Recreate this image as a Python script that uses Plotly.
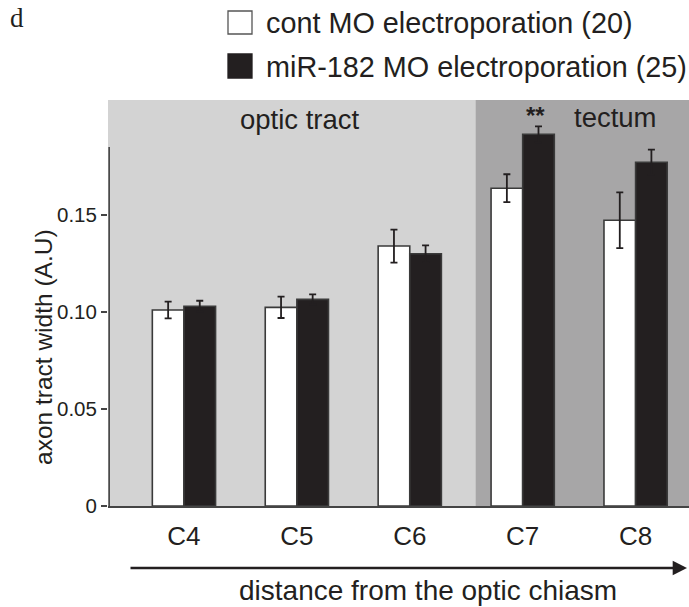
import plotly.graph_objects as go

# ---- data ----
categories = ["C4", "C5", "C6", "C7", "C8"]
cont_values = [0.101, 0.1024, 0.134, 0.1638, 0.1473]
cont_errors = [0.0043, 0.0055, 0.0085, 0.0072, 0.0144]
mir_values = [0.103, 0.1065, 0.130, 0.1916, 0.1772]
mir_errors = [0.0028, 0.0026, 0.0043, 0.0041, 0.0065]
series_names = ["cont MO electroporation (20)", "miR-182 MO electroporation (25)"]
y_tickvals = [0, 0.05, 0.10, 0.15]
y_ticktext = ["0", "0.05", "0.10", "0.15"]

# ---- layout helpers ----
W, H = 689, 607
ML, MR, MT, MB = 108, 0, 100, 101
PW, PH = W - ML - MR, H - MT - MB


def px(x):
    return (x - ML) / PW


def py(y):
    return (H - MB - y) / PH


FONT = "Liberation Sans, Arial, sans-serif"
INK = "#231f20"
EDGE = "#3a3a3a"

fig = go.Figure()
fig.add_trace(go.Bar(
    x=categories, y=cont_values, name=series_names[0],
    marker=dict(color="white", line=dict(color=EDGE, width=1.6)),
    error_y=dict(type="data", array=cont_errors, visible=True,
                 color=INK, thickness=1.8, width=3.5),
))
fig.add_trace(go.Bar(
    x=categories, y=mir_values, name=series_names[1],
    marker=dict(color=INK, line=dict(color=EDGE, width=1.6)),
    error_y=dict(type="data", array=mir_errors, visible=True,
                 color=INK, thickness=1.8, width=3.5),
))

x_lo, x_hi = -0.6726, 4.473
boundary = 2.584

shapes = [
    # dark grey tectum region
    dict(type="rect", xref="x", yref="paper", x0=boundary, x1=x_hi, y0=0, y1=1,
         fillcolor="#a7a6a7", line=dict(width=0), layer="below"),
    # partial y axis line
    dict(type="line", xref="paper", yref="y", x0=0.002, x1=0.002, y0=0, y1=0.185,
         line=dict(color="#444444", width=1.6), layer="above"),
    # legend squares
    dict(type="rect", xref="paper", yref="paper",
         x0=px(228), x1=px(252), y0=py(34), y1=py(11),
         fillcolor="white", line=dict(color="#555555", width=1.3)),
    dict(type="rect", xref="paper", yref="paper",
         x0=px(228), x1=px(252), y0=py(78), y1=py(54),
         fillcolor=INK, line=dict(color=INK, width=1.3)),
]

annotations = [
    dict(text="d", xref="paper", yref="paper", x=px(17), y=py(18),
         showarrow=False, font=dict(family="Liberation Serif, Times New Roman, serif", size=27, color=INK),
         xanchor="center", yanchor="middle"),
    dict(text=series_names[0], xref="paper", yref="paper", x=px(264), y=py(23),
         showarrow=False, font=dict(family=FONT, size=28.8, color=INK),
         xanchor="left", yanchor="middle"),
    dict(text=series_names[1], xref="paper", yref="paper", x=px(264), y=py(67),
         showarrow=False, font=dict(family=FONT, size=28.8, color=INK),
         xanchor="left", yanchor="middle"),
    dict(text="optic tract", xref="paper", yref="paper", x=px(300), y=py(119),
         showarrow=False, font=dict(family=FONT, size=27.5, color=INK),
         xanchor="center", yanchor="middle"),
    dict(text="tectum", xref="paper", yref="paper", x=px(615), y=py(117),
         showarrow=False, font=dict(family=FONT, size=27.5, color=INK),
         xanchor="center", yanchor="middle"),
    dict(text="<b>**</b>", xref="x", yref="paper", x="C7", y=py(116),
         xshift=13, showarrow=False, font=dict(family=FONT, size=24, color=INK),
         xanchor="center", yanchor="middle"),
    dict(text="axon tract width (A.U)", xref="paper", yref="paper", x=px(43), y=py(347),
         showarrow=False, textangle=-90, font=dict(family=FONT, size=24.5, color=INK),
         xanchor="center", yanchor="middle"),
    dict(text="distance from the optic chiasm", xref="paper", yref="paper", x=px(428), y=py(590),
         showarrow=False, font=dict(family=FONT, size=28, color=INK),
         xanchor="center", yanchor="middle"),
    # arrow
    dict(text="", xref="paper", yref="paper", x=px(687), y=py(568),
         ax=-(687 - 129), ay=0, axref="pixel", ayref="pixel",
         showarrow=True, arrowhead=2, arrowsize=1.1, arrowwidth=2.6, arrowcolor=INK),
]

fig.update_layout(
    width=W, height=H,
    margin=dict(l=ML, r=MR, t=MT, b=MB, pad=0),
    paper_bgcolor="white",
    plot_bgcolor="#d3d3d3",
    barmode="group", bargap=0.44, bargroupgap=0,
    showlegend=False,
    shapes=shapes,
    annotations=annotations,
    font=dict(family=FONT, color=INK),
    xaxis=dict(
        range=[x_lo, x_hi], showgrid=False, zeroline=False,
        showline=True, linecolor="#444444", linewidth=1.6,
        ticks="", tickfont=dict(family=FONT, size=26, color=INK),
        ticklabelstandoff=6,
    ),
    yaxis=dict(
        range=[0, PH / 1940], showgrid=False, zeroline=False, showline=False,
        tickvals=y_tickvals, ticktext=y_ticktext,
        ticks="outside", ticklen=6, tickwidth=1.6, tickcolor="#444444",
        tickfont=dict(family=FONT, size=20.5, color=INK),
    ),
)

fig.write_html(
    "out.html",
    config={"displayModeBar": False},
    post_script="document.body.style.margin='0';document.body.style.overflow='hidden';",
)
